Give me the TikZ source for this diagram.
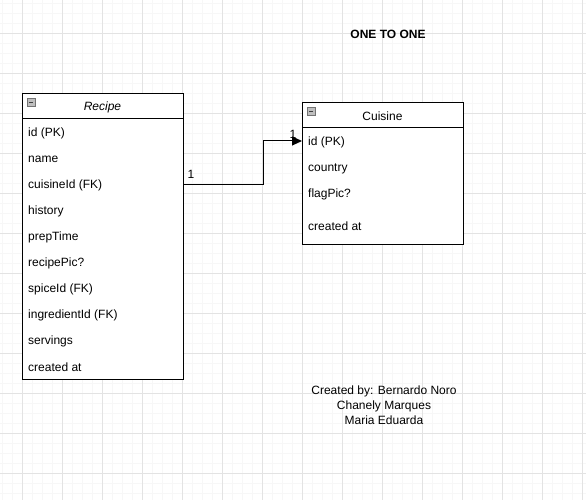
\documentclass[tikz,border=0pt]{standalone}
\usepackage{fontspec}
\setmainfont{Liberation Sans}
\usetikzlibrary{positioning,arrows.meta,calc}

\begin{document}
\begin{tikzpicture}[x=1pt,y=-1pt,
    font=\fontsize{12}{14}\selectfont,
    minorgrid/.style={draw=black!3,line width=0.6pt},
    majorgrid/.style={draw=black!11,line width=0.8pt},
    tablebox/.style={draw,line width=1pt,fill=white,minimum width=161pt,inner sep=0pt},
    field/.style={anchor=west,inner sep=0pt,yshift=-1.5pt},
    minusbox/.style={draw=black!55,fill=black!25,minimum size=8pt,inner sep=0pt,
        path picture={\draw[black!75,line width=0.9pt]
            ([xshift=1.8pt]path picture bounding box.west) --
            ([xshift=-1.8pt]path picture bounding box.east);}},
    relation/.style={draw,line width=1pt,-{Triangle[length=10pt,width=9pt]}},
    card/.style={inner sep=0pt}
]
\useasboundingbox[fill=white] (0,0) rectangle (586,500);

% background grid
\foreach \x in {2,12,...,582} \draw[minorgrid] (\x,0) -- (\x,500);
\foreach \y in {3,13,...,493} \draw[minorgrid] (0,\y) -- (586,\y);
\foreach \x in {22,62,...,582} \draw[majorgrid] (\x,0) -- (\x,500);
\foreach \y in {33,73,...,473} \draw[majorgrid] (0,\y) -- (586,\y);

% title
\node[font=\fontsize{12}{14}\selectfont\bfseries] (title) at (388,34) {ONE TO ONE};

% Recipe table
\node[tablebox,minimum height=286pt,anchor=north west] (recipe) at (22,93) {};
\draw[line width=1pt] ($(recipe.north west)+(0,26)$) -- ($(recipe.north east)+(0,26)$);
\node[minusbox] (ricon) at (31,102) {};
\node[font=\fontsize{12}{14}\selectfont\itshape] (rtitle) at (102.5,107.5) {Recipe};
\node[field] (rid) at (28,132) {id (PK)};
\node[field] (rname) at (28,158) {name};
\node[field] (rcuisine) at (28,184) {cuisineId (FK)};
\node[field] (rhistory) at (28,210) {history};
\node[field] (rprep) at (28,236) {prepTime};
\node[field] (rpic) at (28,262) {recipePic?};
\node[field] (rspice) at (28,288) {spiceId (FK)};
\node[field] (ringr) at (28,314) {ingredientId (FK)};
\node[field] (rserv) at (28,340) {servings};
\node[field] (rcreated) at (28,366) {created at};

% Cuisine table
\node[tablebox,minimum height=142pt,anchor=north west] (cuisine) at (302,102) {};
\draw[line width=1pt] ($(cuisine.north west)+(0,26)$) -- ($(cuisine.north east)+(0,26)$);
\node[minusbox] (cicon) at (311,111) {};
\node (ctitle) at (382.5,116.5) {Cuisine};
\node[field] (cid) at (308,141) {id (PK)};
\node[field] (ccountry) at (308,167) {country};
\node[field] (cflag) at (308,193) {flagPic?};
\node[field] (ccreated) at (308,225) {created at};

% relation
\draw[relation] (recipe.east |- 0,184) -- ++(79,0) |- (cuisine.west |- 0,141);
\node[card] (c1) at (191,174) {1};
\node[card] (c2) at (293,134) {1};

% credits
\node[align=center,inner sep=0pt,font=\fontsize{12}{15}\selectfont] (credits) at (384,405)
    {Created by: Bernardo Noro\\Chanely Marques\\Maria Eduarda};
\end{tikzpicture}
\end{document}
